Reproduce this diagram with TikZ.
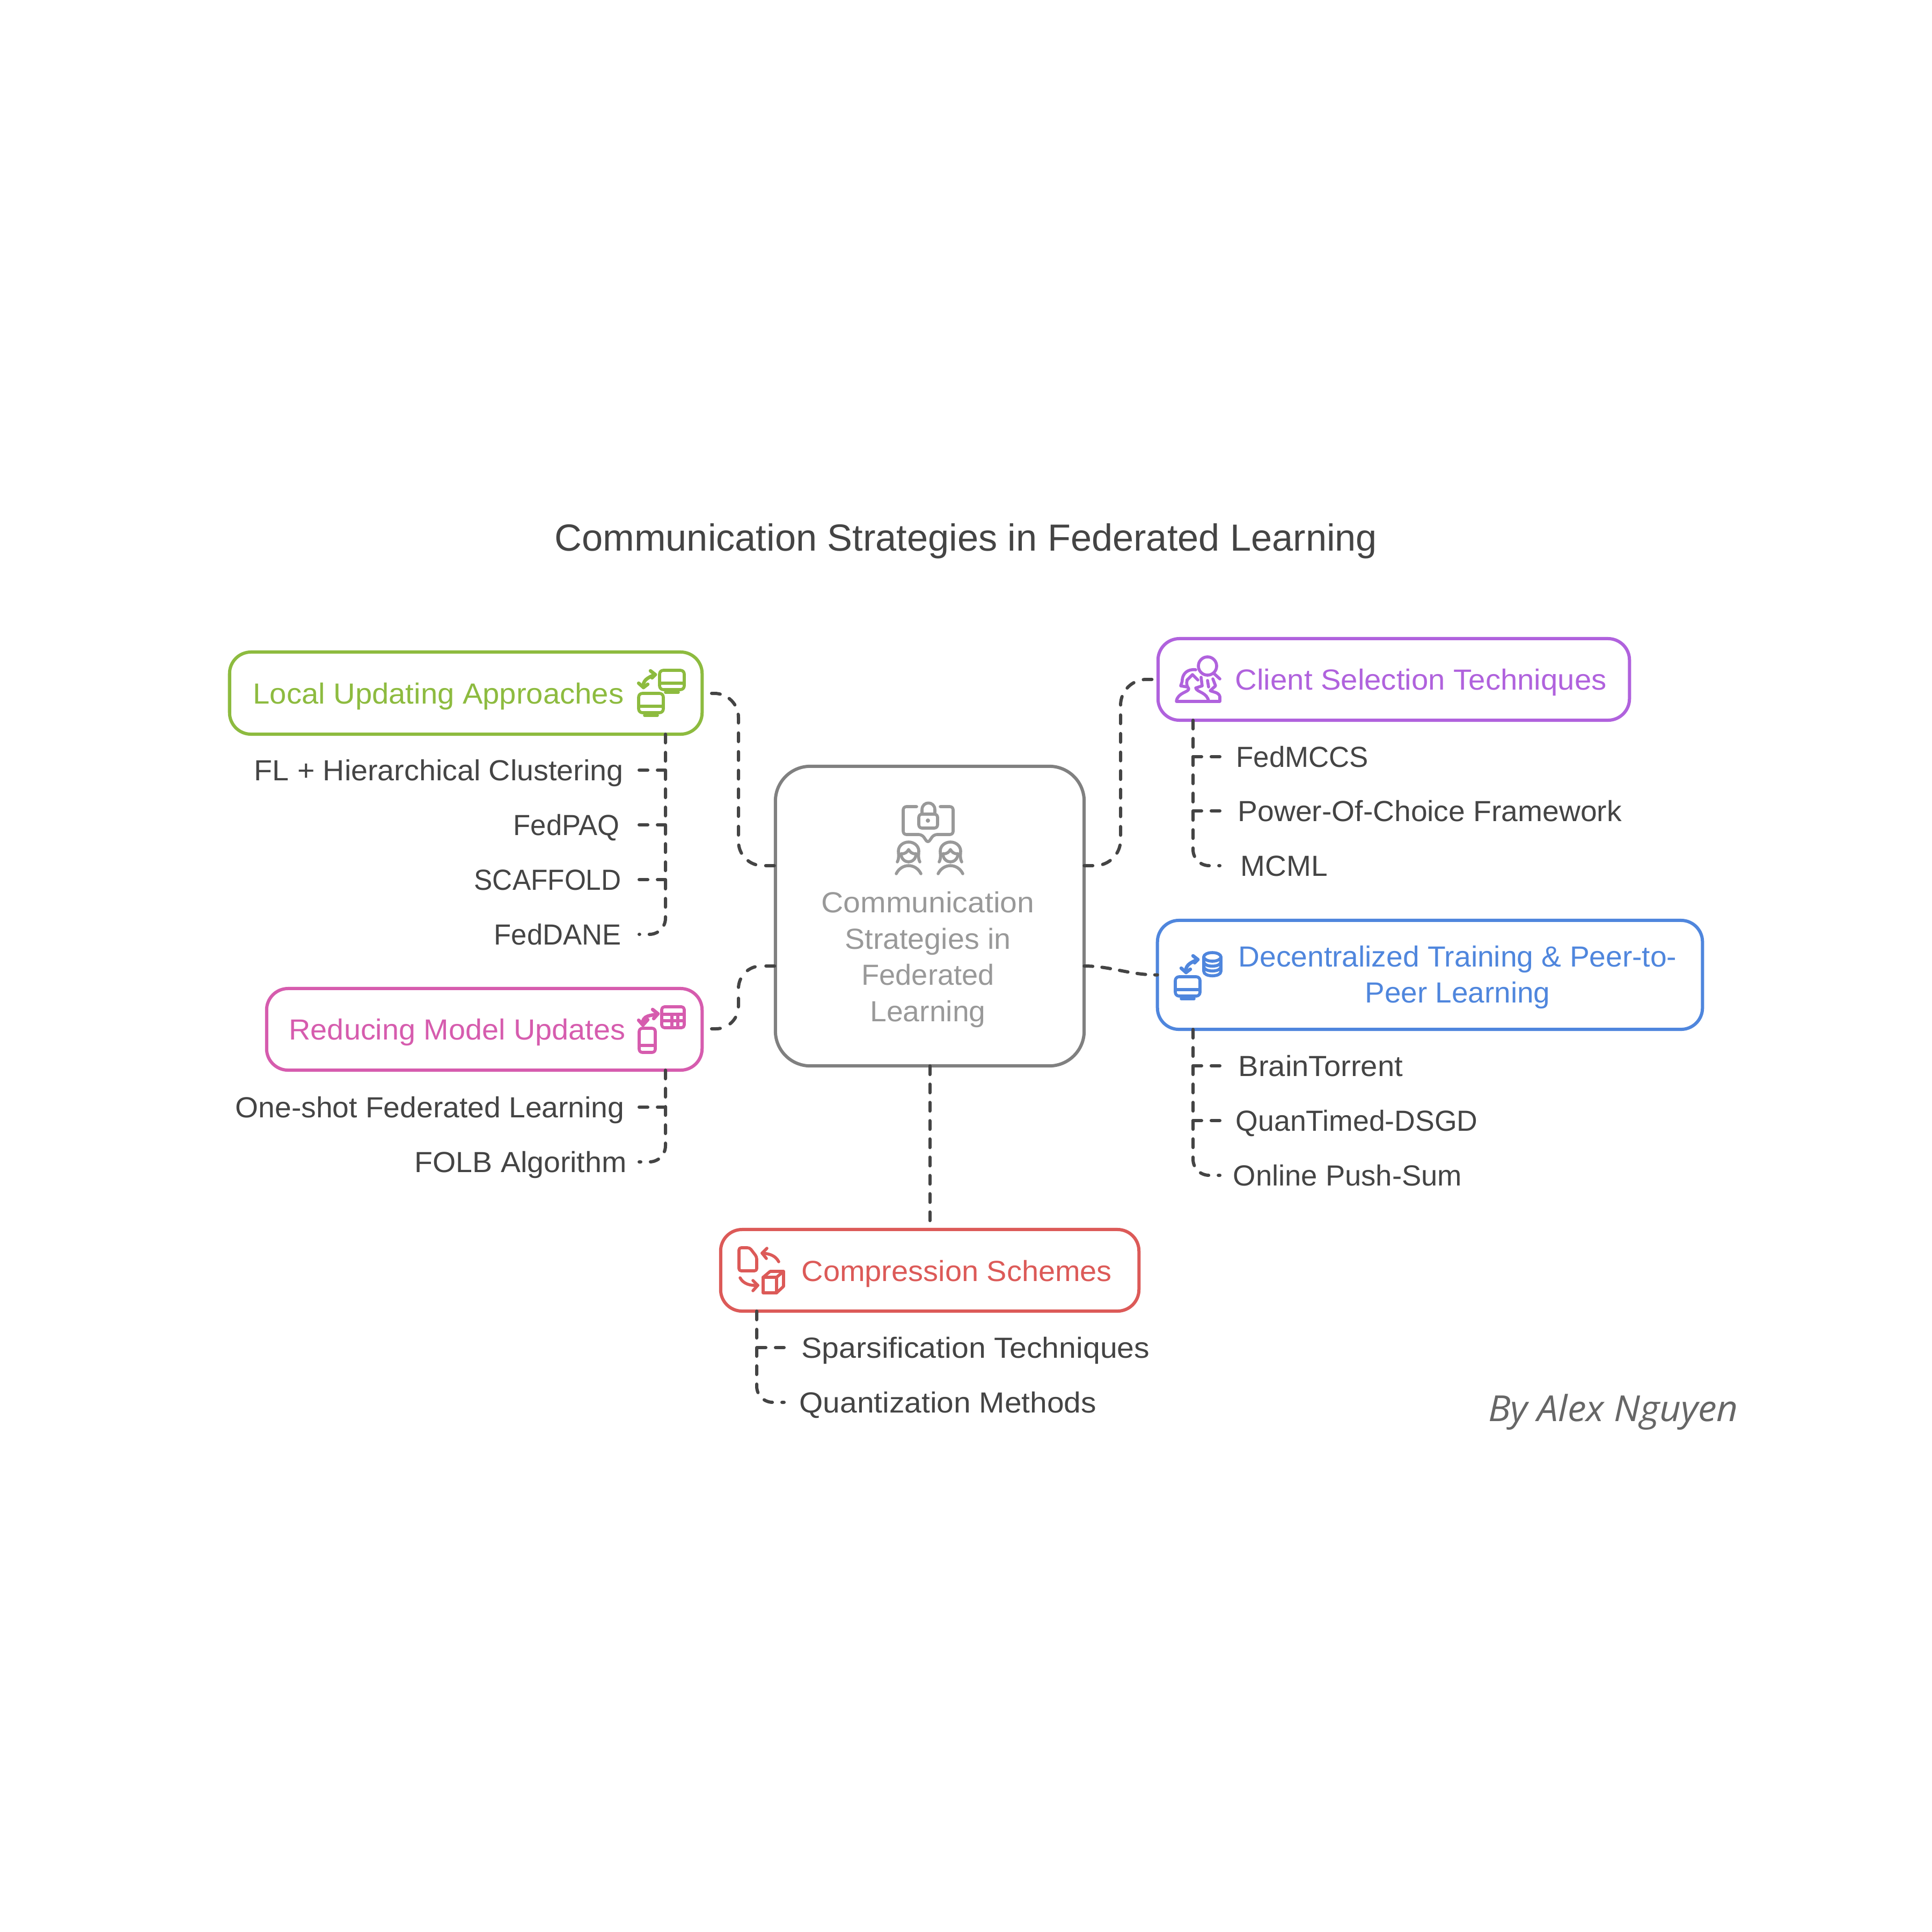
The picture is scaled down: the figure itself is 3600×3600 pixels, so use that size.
\documentclass[tikz,border=0pt]{standalone}
\usepackage{fontspec}
\setmainfont{Liberation Sans}
\newfontfamily\byfont{Open Sans}
\definecolor{igreen}{HTML}{8DBB3F}
\definecolor{ipink}{HTML}{D65CAE}
\definecolor{ipurple}{HTML}{B062DD}
\definecolor{iblue}{HTML}{4F86DD}
\definecolor{ired}{HTML}{DC5A58}
\definecolor{cgrey}{HTML}{808080}
\definecolor{tgrey}{HTML}{999999}
\definecolor{ink}{HTML}{444444}
\definecolor{signgrey}{HTML}{666666}
\newcommand{\bodyfont}{\fontsize{15.4}{19.2}\selectfont}
\newcommand{\sx}[2]{\scalebox{#1}[1]{#2}}
\tikzset{
  rbox/.style={draw, rounded corners=0.4cm, line width=0.06cm, inner sep=0pt, outer sep=0pt, fill=white},
  cbox/.style={rbox, draw=cgrey, rounded corners=0.65cm},
  lbl/.style={inner sep=0pt, anchor=west, xshift=-0.02cm, font=\bodyfont, text height=0.39cm, text depth=0pt, text=ink},
  conn/.style={draw=ink, line width=0.06cm, line cap=round, dash pattern=on 0.16cm off 0.18cm},
  ic/.style={line width=0.056cm, line cap=round, line join=round},
  monitor/.pic={
    \draw[ic, rounded corners=0.07cm] (0,0) rectangle (46,36);
    \draw[ic] (0,24) -- (46,24) (23,36) -- (23,41) (11,41) -- (35,41);
  },
  swap/.pic={
    \draw[ic, line width=0.065cm] (0,0) .. controls (-2,-12) and (6,-18) .. (22,-24);
    \draw[ic, line width=0.065cm] (-9,-8) -- (0,0) -- (8,-6);
    \draw[ic, line width=0.065cm] (13,-31) -- (22,-24) -- (16,-18);
  },
  woman/.pic={
    \draw[ic] (-21,18) .. controls (-17,10) and (-19,4) .. (-19,-2) .. controls (-19,-12) and (-10,-19) .. (0,-19) .. controls (10,-19) and (19,-12) .. (19,-2) .. controls (19,4) and (17,10) .. (21,18);
    \draw[ic] (-14,3) .. controls (-14,12) and (-7,18) .. (0,18) .. controls (7,18) and (14,12) .. (14,3);
    \draw[ic] (-14,3) .. controls (-6,3) and (-3,0) .. (0,-5) .. controls (3,0) and (6,3) .. (14,3);
    \draw[ic] (-23,40) .. controls (-18,30) and (-9,25) .. (0,25) .. controls (9,25) and (18,30) .. (23,40);
  },
}
\begin{document}
\begin{tikzpicture}[x=0.01cm,y=-0.01cm]
\useasboundingbox (0,0) rectangle (3600,3600);
\fill[white] (0,0) rectangle (3600,3600);

% title and signature
\node[inner sep=0pt, font=\fontsize{20}{24}\selectfont, text=ink] (title) at (1800,1008) {Communication Strategies in Federated Learning};
\node[inner sep=0pt, font=\byfont\itshape\fontsize{19}{22}\selectfont, text=signgrey] (sign) at (3006,2631) {\sx{1.04}{By Alex Nguyen}};

% boxes
\node[cbox, minimum width=5.75cm, minimum height=5.58cm] (center) at (1732.5,1707) {};
\node[rbox, draw=igreen, minimum width=8.80cm, minimum height=1.53cm] (local) at (868,1291.5) {};
\node[rbox, draw=ipink, minimum width=8.11cm, minimum height=1.52cm] (reduce) at (902.5,1918) {};
\node[rbox, draw=ipurple, minimum width=8.78cm, minimum height=1.52cm] (client) at (2597,1266) {};
\node[rbox, draw=iblue, minimum width=10.15cm, minimum height=2.03cm] (decent) at (2664.5,1816.5) {};
\node[rbox, draw=ired, minimum width=7.79cm, minimum height=1.52cm] (compress) at (1732.5,2367) {};

% box titles
\node[lbl, text=igreen] (tlocal) at (473,1292) {\sx{1.038}{Local Updating Approaches}};
\node[lbl, text=ipink] (treduce) at (540,1918) {\sx{1.03}{Reducing Model Updates}};
\node[lbl, text=ipurple] (tclient) at (2303,1266) {\sx{1.04}{Client Selection Techniques}};
\node[inner sep=0pt, font=\bodyfont, text=iblue, align=center] (tdecent) at (2716,1821) {\sx{1.019}{Decentralized Training \& Peer-to-}\\\sx{1.013}{Peer Learning}};
\node[lbl, text=ired] (tcompress) at (1495,2368) {\sx{1.033}{Compression Schemes}};
\node[inner sep=0pt, font=\bodyfont, text=tgrey, align=center] (tcenter) at (1729,1788) {\sx{1.055}{Communication}\\\sx{1.027}{Strategies in}\\Federated\\\sx{1.02}{Learning}};

% items
\node[lbl] (i11) at (475,1435) {\sx{1.027}{FL + Hierarchical Clustering}};
\node[lbl] (i12) at (958,1537) {\sx{0.97}{FedPAQ}};
\node[lbl] (i13) at (885,1639) {\sx{0.948}{SCAFFOLD}};
\node[lbl] (i14) at (922,1741) {\sx{0.97}{FedDANE}};
\node[lbl] (i21) at (440,2063) {\sx{1.02}{One-shot Federated Learning}};
\node[lbl] (i22) at (774,2165) {\sx{1.025}{FOLB Algorithm}};
\node[lbl] (i31) at (2305,1410) {\sx{0.975}{FedMCCS}};
\node[lbl] (i32) at (2308,1511) {\sx{1.02}{Power-Of-Choice Framework}};
\node[lbl] (i33) at (2313,1613) {\sx{1.017}{MCML}};
\node[lbl] (i41) at (2309,1986) {\sx{1.038}{BrainTorrent}};
\node[lbl] (i42) at (2304,2088) {\sx{0.99}{QuanTimed-DSGD}};
\node[lbl] (i43) at (2299,2190) {\sx{1.005}{Online Push-Sum}};
\node[lbl] (i51) at (1495,2511) {\sx{1.056}{Sparsification Techniques}};
\node[lbl] (i52) at (1491,2613) {\sx{1.05}{Quantization Methods}};

% free ends of the connectors
\coordinate (tl) at (1240,0);
\coordinate (tr) at (2223,0);
\coordinate (tc) at (1410,0);
\foreach \n/\x/\y in {e11/1191/1435,e12/1191/1537,e13/1191/1639,e14/1191/1741,e21/1191/2063,e22/1191/2165,e31/2273/1410,e32/2273/1511,e33/2273/1613,e41/2273/1986,e42/2273/2088,e43/2273/2190,e51/1461/2511,e52/1461/2613,sl/1326/1292,sr/1326/1917,sc/2147/1266}
  \coordinate (\n) at (\x,\y);
\coordinate (cl1) at (center.west |- 0,1613);
\coordinate (cl2) at (center.west |- 0,1800);
\coordinate (cr1) at (center.east |- 0,1613);
\coordinate (cr2) at (center.east |- 0,1800);

% center links
\draw[conn, dash pattern=on 0.16cm off 0.188cm, rounded corners=0.45cm] (sl) -- (1376,1292) -- (1376,1613) -- (cl1);
\draw[conn, dash pattern=on 0.16cm off 0.204cm, rounded corners=0.42cm] (sr) -- (1376,1917) -- (1376,1800) -- (cl2);
\draw[conn, dash pattern=on 0.16cm off 0.1864cm, rounded corners=0.48cm] (cr1) -- (2088,1613) -- (2088,1266) -- (sc);
\draw[conn, dash pattern=on 0.16cm off 0.172cm] (cr2) .. controls (2070,1800) and (2105,1817) .. (decent.west);
\draw[conn] (center.south) -- (compress.north);

% trunks
\draw[conn, rounded corners=0.3cm] (tl |- local.south) -- (tl |- e14) -- (e14);
\draw[conn, rounded corners=0.3cm] (tl |- reduce.south) -- (tl |- e22) -- (e22);
\draw[conn, rounded corners=0.3cm] (tr |- client.south) -- (tr |- e33) -- (e33);
\draw[conn, rounded corners=0.3cm] (tr |- decent.south) -- (tr |- e43) -- (e43);
\draw[conn, rounded corners=0.3cm] (tc |- compress.south) -- (tc |- e52) -- (e52);
% branches
\foreach \e/\t in {e11/tl,e12/tl,e13/tl,e21/tl,e31/tr,e32/tr,e41/tr,e42/tr,e51/tc}
  \draw[conn] (\e) -- (\t |- \e);

% green icon
\pic[color=igreen] at (1229,1249) {monitor};
\pic[color=igreen] at (1190,1292) {monitor};
\pic[color=igreen] at (1199,1281) {swap};

% pink icon
\begin{scope}[color=ipink]
\draw[ic, rounded corners=0.05cm] (1233,1876) rectangle (1275,1915);
\draw[ic] (1233,1890) -- (1275,1890) (1233,1902) -- (1275,1902) (1252,1890) -- (1252,1915) (1263,1890) -- (1263,1915);
\draw[ic, rounded corners=0.06cm] (1191,1916) rectangle (1221,1961);
\draw[ic] (1191,1948) -- (1221,1948);
\draw[ic, line width=0.065cm] (1198,1910) .. controls (1195,1890) and (1215,1893) .. (1226,1889);
\draw[ic, line width=0.065cm] (1190,1901) -- (1198,1910) -- (1207,1900);
\draw[ic, line width=0.065cm] (1216,1881) -- (1226,1889) -- (1218,1898);
\end{scope}

% purple icon
\begin{scope}[color=ipurple]
\draw[ic] (2250,1241) circle (17);
\draw[ic] (2262,1255) -- (2273,1265);
\draw[ic] (2228,1248) .. controls (2212,1246) and (2204,1256) .. (2203,1266) .. controls (2203,1272) and (2201,1274) .. (2200,1278) -- (2212,1280);
\draw[ic] (2212,1267) -- (2222,1257) -- (2232,1267);
\draw[ic] (2212,1267) .. controls (2210,1274) and (2212,1280) .. (2215,1283) .. controls (2216,1290) and (2194,1290) .. (2192,1307) -- (2273,1307) -- (2273,1298) .. controls (2271,1290) and (2262,1290) .. (2255,1287) -- (2265,1278) -- (2260,1265);
\draw[ic] (2238,1262) -- (2240,1278) -- (2228,1282) .. controls (2230,1290) and (2250,1290) .. (2252,1307);
\draw[ic] (2250,1268) -- (2252,1280);
\end{scope}

% blue icon
\begin{scope}[color=iblue]
\draw[ic] (2259,1783) ellipse (16 and 8);
\draw[ic] (2243,1783) -- (2243,1810) .. controls (2243,1821) and (2275,1821) .. (2275,1810) -- (2275,1783);
\draw[ic] (2243,1792) .. controls (2243,1803) and (2275,1803) .. (2275,1792);
\draw[ic] (2243,1801) .. controls (2243,1812) and (2275,1812) .. (2275,1801);
\end{scope}
\pic[color=iblue] at (2190,1820) {monitor};
\pic[color=iblue] at (2210,1812) {swap};

% red icon
\begin{scope}[color=ired]
\draw[ic, rounded corners=0.04cm] (1377,2325) -- (1397,2325) -- (1410,2342) -- (1410,2368) -- (1377,2368) -- cycle;
\draw[ic] (1451,2351) .. controls (1445,2340) and (1435,2336) .. (1420,2335);
\draw[ic] (1429,2326) -- (1420,2335) -- (1428,2345);
\draw[ic] (1379,2381) .. controls (1385,2392) and (1397,2396) .. (1412,2395);
\draw[ic] (1403,2386) -- (1412,2395) -- (1403,2405);
\draw[ic] (1422,2380) rectangle (1447,2409);
\draw[ic] (1422,2380) -- (1435,2369) -- (1460,2369) -- (1460,2397) -- (1447,2409);
\draw[ic] (1447,2380) -- (1460,2369);
\end{scope}

% center icon
\begin{scope}[color=tgrey]
\draw[ic, rounded corners=0.06cm] (1708,1503) -- (1683,1503) -- (1683,1555) -- (1718,1555) -- (1729,1571) -- (1740,1555) -- (1776,1555) -- (1776,1503) -- (1752,1503);
\draw[ic, rounded corners=0.06cm] (1712,1517) rectangle (1747,1543);
\draw[ic] (1718,1517) -- (1718,1509) .. controls (1718,1492) and (1742,1492) .. (1742,1509) -- (1742,1517);
\fill (1729,1529) circle (4);
\pic[color=tgrey] at (1693,1588) {woman};
\pic[color=tgrey] at (1771,1588) {woman};
\end{scope}
\end{tikzpicture}
\end{document}
